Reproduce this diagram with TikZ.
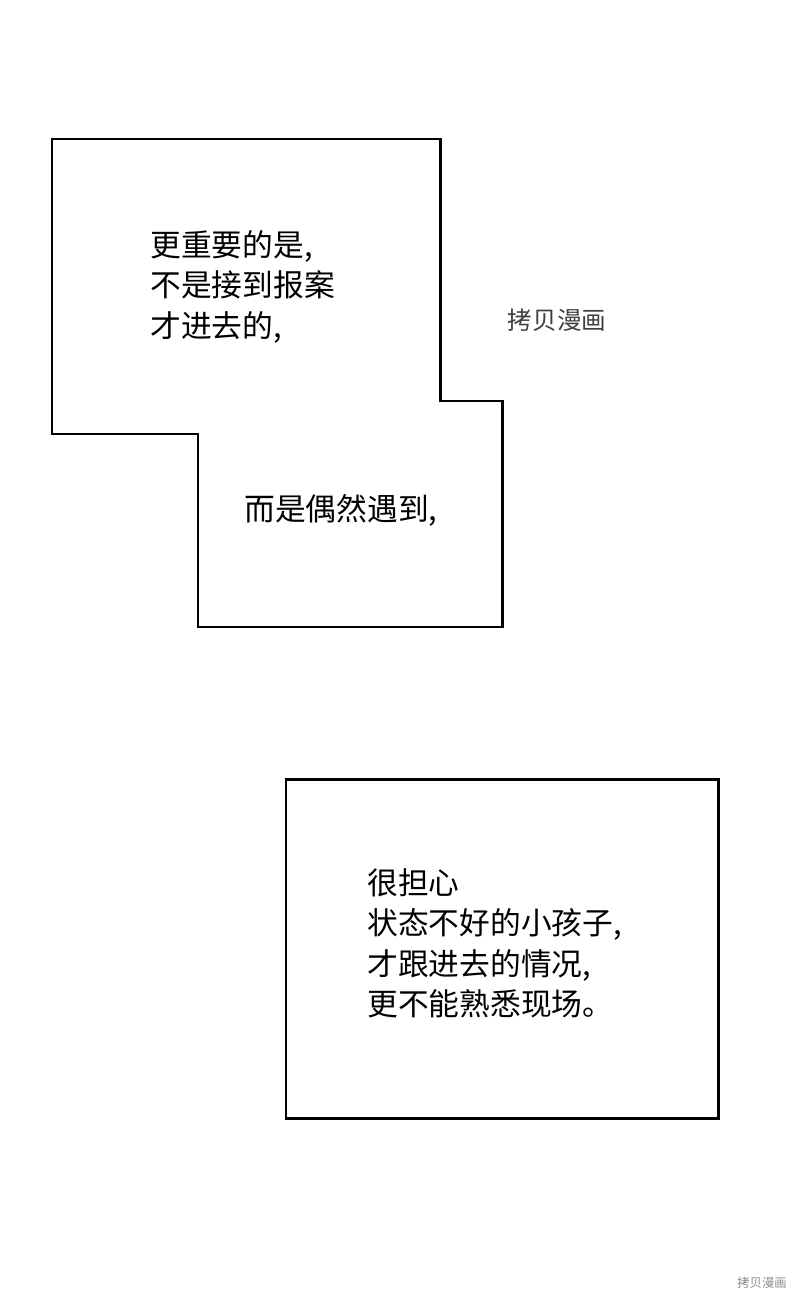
\documentclass[tikz,border=0pt]{standalone}
\usepackage{fontspec}
\newfontfamily\cjk{Noto Sans CJK SC}
\tikzset{
    panel/.style={draw=black, line width=1.7pt, fill=white},
    speech/.style={anchor=north west, align=left, font=\cjk\fontsize{17.5}{23}\selectfont, inner sep=0pt},
    stamp/.style={font=\cjk\fontsize{14}{16}\selectfont, text=black!75, inner sep=0pt}
}
\begin{document}
\begin{tikzpicture}[x=0.02cm, y=-0.02cm]
    \useasboundingbox[fill=white] (0,0) rectangle (800,1300);
    % upper stepped panel
    \draw[panel] (52,139) -- (440,139) -- (440,401) -- (502,401) -- (502,627)
        -- (198,627) -- (198,434) -- (52,434) -- cycle;
    \node[speech] (TopText) at (150,230) {更重要的是,\\不是接到报案\\才进去的,};
    \node[speech] (MidText) at (244,494) {而是偶然遇到,};
    \node[stamp] (Stamp) at (557,320) {拷贝漫画};
    % lower panel
    \draw[panel] (286,779) rectangle (718,1118);
    \node[speech] (LowText) at (367,868) {很担心\\状态不好的小孩子,\\才跟进去的情况,\\更不能熟悉现场。};
    \node[font=\cjk\fontsize{7}{8}\selectfont, text=black!45, inner sep=0pt] (Corner) at (762,1283) {拷贝漫画};
\end{tikzpicture}
\end{document}
